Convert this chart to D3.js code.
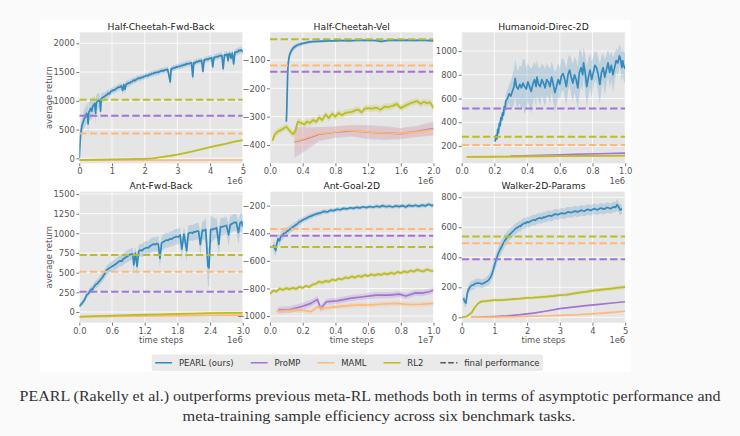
<!DOCTYPE html>
<html><head><meta charset="utf-8">
<script src="https://cdn.jsdelivr.net/npm/d3@7"></script>
<style>html,body{margin:0;padding:0;background:#fafafa;}svg{display:block}</style>
</head><body>
<svg id="c" width="740" height="436"></svg>
<script>
// ---------------- DATA ----------------
const titles = ["Half-Cheetah-Fwd-Back","Half-Cheetah-Vel","Humanoid-Direc-2D","Ant-Fwd-Back","Ant-Goal-2D","Walker-2D-Params"];
const offsetLabels = ["1e6","1e6","1e6","1e6","1e7","1e6"];
const xTicks = [[0,1,2,3,4,5],[0,0.4,0.8,1.2,1.6,2.0],[0,0.2,0.4,0.6,0.8,1.0],[0,0.6,1.2,1.8,2.4,3.0],[0,0.2,0.4,0.6,0.8,1.0],[0,1,2,3,4,5]];
const xTickDigits = [0,1,1,1,1,0];
const yTicks = [[0,500,1000,1500,2000],[-400,-300,-200,-100],[200,400,600,800,1000],[0,250,500,750,1000,1250,1500],[-1000,-800,-600,-400,-200],[0,200,400,600,800]];
const methods = ["PEARL (ours)","ProMP","MAML","RL2"];
const finalProMP = [738,-141,515,258,-418,387];
const finalMAML  = [433,-119,208,512,-369,493];
const finalRL2   = [1020,-27,278,724,-500,538];

// [x, mean, std]
const hcfbPEARL = [[0,0,10],[0.02,250,80],[0.04,420,120],[0.06,500,150],[0.08,560,120],[0.1,600,160],[0.13,650,140],[0.16,700,180],[0.19,720,150],[0.22,780,160],[0.25,760,200],[0.27,600,220],[0.29,800,180],[0.32,830,150],[0.35,870,200],[0.38,820,150],[0.41,900,180],[0.44,930,120],[0.47,950,150],[0.5,780,200],[0.52,970,130],[0.56,990,150],[0.6,1010,120],[0.63,1000,100],[0.65,820,150],[0.67,1040,90],[0.72,1060,80],[0.76,1070,70],[0.8,1090,70],[0.84,1100,70],[0.88,1130,70],[0.92,1120,60],[0.96,1160,60],[1.0,1170,60],[1.04,1190,60],[1.08,1185,60],[1.12,1210,60],[1.16,1220,60],[1.2,1240,60],[1.24,1235,60],[1.28,1260,60],[1.33,1180,80],[1.36,1280,60],[1.4,1200,80],[1.43,1290,60],[1.47,1295,60],[1.5,1310,60],[1.54,1305,60],[1.58,1330,55],[1.62,1335,55],[1.66,1360,55],[1.7,1350,55],[1.74,1370,55],[1.78,1385,55],[1.82,1395,50],[1.86,1390,50],[1.9,1410,50],[1.94,1405,50],[1.98,1425,50],[2.02,1430,50],[2.06,1440,50],[2.1,1435,50],[2.14,1460,50],[2.18,1455,50],[2.22,1475,50],[2.26,1470,50],[2.3,1490,50],[2.34,1485,50],[2.38,1500,50],[2.42,1495,50],[2.46,1510,50],[2.5,1520,50],[2.54,1525,50],[2.58,1520,50],[2.62,1540,50],[2.66,1535,50],[2.7,1550,50],[2.75,1420,80],[2.78,1330,90],[2.81,1560,50],[2.85,1555,50],[2.88,1575,50],[2.92,1570,50],[2.96,1590,50],[3.0,1585,50],[3.04,1600,50],[3.08,1598,50],[3.12,1615,50],[3.16,1610,50],[3.2,1630,50],[3.24,1625,50],[3.28,1645,50],[3.32,1640,50],[3.36,1650,50],[3.4,1655,50],[3.43,1660,50],[3.47,1420,100],[3.5,1665,50],[3.54,1660,50],[3.58,1680,50],[3.62,1675,50],[3.66,1695,50],[3.7,1690,50],[3.74,1705,50],[3.78,1510,90],[3.82,1715,50],[3.86,1712,50],[3.9,1725,50],[3.94,1720,50],[3.98,1740,55],[4.02,1735,55],[4.05,1750,55],[4.08,1590,90],[4.12,1760,55],[4.16,1755,55],[4.2,1770,55],[4.24,1765,55],[4.28,1785,55],[4.32,1780,55],[4.36,1790,60],[4.4,1560,100],[4.44,1800,60],[4.48,1795,60],[4.52,1810,60],[4.55,1700,80],[4.58,1820,60],[4.61,1815,60],[4.64,1740,80],[4.68,1830,60],[4.72,1640,100],[4.76,1845,60],[4.79,1840,60],[4.82,1855,60],[4.85,1850,60],[4.88,1880,60],[4.91,1870,60],[4.94,1885,60],[4.97,1875,60],[5.0,1850,60]];
const hcfbProMP = [];
const hcfbMAML = [[0,-35,6],[1,-33,6],[2,-32,6],[3,-31,6],[4,-30,6],[5,-30,6]];
const hcfbRL2 = [[0,-30,10],[0.5,-25,10],[1,-20,10],[1.5,-15,10],[2,-8,10],[2.25,0,12],[2.5,20,12],[2.75,40,14],[3,65,14],[3.25,95,15],[3.5,125,16],[3.75,160,16],[4,195,17],[4.25,225,18],[4.5,255,18],[4.75,290,18],[5,318,18]];

const hcvPEARL = [[0.2,-318,10],[0.205,-280,20],[0.21,-220,30],[0.215,-160,30],[0.22,-120,25],[0.23,-95,20],[0.24,-82,15],[0.26,-68,12],[0.28,-59,10],[0.3,-54,10],[0.33,-48,8],[0.37,-44,8],[0.42,-40,6],[0.47,-37,6],[0.52,-35,5],[0.58,-34,5],[0.65,-33,5],[0.72,-32,4],[0.8,-32,4],[0.88,-31,4],[0.96,-32,4],[1.04,-31,4],[1.12,-30,4],[1.2,-31,4],[1.28,-31,4],[1.36,-34,5],[1.44,-31,4],[1.52,-30,4],[1.6,-31,4],[1.68,-30,4],[1.76,-31,4],[1.84,-30,4],[1.92,-31,4],[2.0,-32,4]];
const hcvProMP = [[0.3,-390,55],[0.45,-378,40],[0.6,-362,25],[0.8,-355,20],[1.0,-350,20],[1.2,-355,25],[1.4,-358,25],[1.6,-360,20],[1.8,-352,20],[2.0,-342,25]];
const hcvMAML = [[0.3,-388,45],[0.45,-375,35],[0.6,-360,22],[0.75,-356,18],[0.95,-348,18],[1.15,-353,20],[1.4,-358,20],[1.6,-359,18],[1.8,-354,18],[2.0,-346,20]];
const hcvRL2 = [[0.03,-385,12],[0.06,-362,12],[0.1,-352,12],[0.15,-345,12],[0.2,-336,12],[0.24,-350,12],[0.28,-362,12],[0.31,-352,12],[0.34,-318,12],[0.38,-322,12],[0.42,-328,12],[0.45,-318,12],[0.49,-322,12],[0.53,-312,12],[0.57,-318,12],[0.6,-303,12],[0.64,-312,12],[0.68,-292,12],[0.72,-305,12],[0.76,-290,12],[0.8,-300,12],[0.84,-287,12],[0.88,-295,12],[0.92,-287,12],[0.96,-285,12],[1.0,-283,12],[1.04,-278,12],[1.08,-275,12],[1.12,-285,12],[1.16,-272,12],[1.2,-270,12],[1.25,-272,12],[1.3,-268,12],[1.35,-276,12],[1.4,-265,12],[1.45,-266,12],[1.5,-262,12],[1.55,-255,12],[1.6,-270,12],[1.65,-262,12],[1.7,-255,12],[1.75,-250,12],[1.8,-245,12],[1.84,-255,12],[1.88,-248,12],[1.92,-252,12],[1.96,-250,12],[2.0,-270,12]];

const hdPEARL = [[0.204,236,20],[0.21,290,30],[0.215,260,30],[0.22,340,35],[0.225,310,35],[0.23,390,40],[0.235,370,40],[0.24,440,40],[0.245,420,45],[0.25,480,45],[0.255,460,50],[0.26,530,50],[0.265,510,60],[0.27,580,60],[0.28,600,70],[0.29,640,80],[0.3,620,120],[0.31,660,140],[0.32,700,150],[0.327,770,160],[0.335,700,170],[0.345,680,150],[0.355,720,160],[0.365,690,180],[0.375,730,200],[0.385,700,230],[0.395,680,180],[0.405,740,160],[0.415,700,170],[0.425,660,190],[0.435,720,160],[0.445,760,150],[0.455,700,170],[0.46,780,150],[0.47,720,140],[0.48,700,160],[0.49,760,130],[0.5,730,150],[0.51,690,160],[0.52,760,140],[0.53,740,130],[0.54,700,150],[0.55,780,130],[0.56,720,150],[0.57,650,170],[0.58,700,150],[0.59,760,140],[0.6,720,130],[0.61,790,140],[0.62,810,130],[0.63,760,150],[0.64,700,160],[0.65,800,140],[0.66,840,130],[0.67,780,150],[0.68,730,160],[0.69,800,150],[0.7,760,170],[0.71,690,180],[0.72,820,190],[0.73,860,150],[0.74,800,140],[0.745,900,130],[0.755,820,150],[0.765,700,170],[0.775,780,160],[0.785,840,140],[0.795,760,150],[0.805,820,130],[0.815,880,120],[0.825,860,130],[0.835,800,150],[0.845,720,170],[0.855,820,140],[0.865,860,120],[0.875,780,150],[0.885,840,130],[0.895,900,110],[0.905,820,140],[0.915,880,120],[0.925,800,150],[0.935,860,120],[0.945,920,100],[0.955,900,110],[0.965,960,90],[0.97,940,100],[0.975,900,110],[0.98,860,130],[0.985,920,110],[0.99,880,120],[1.0,850,130]];
const hdProMP = [[0.3,115,4],[0.5,122,4],[0.7,130,4],[0.9,136,4],[1.0,140,4]];
const hdMAML = [[0.03,106,3],[0.3,110,3],[0.6,114,3],[1.0,118,3]];
const hdRL2 = [[0.03,108,4],[0.2,110,4],[0.4,112,4],[0.6,114,4],[0.8,116,4],[1.0,118,4]];

const afbPEARL = [[0,76,30],[0.03,95,32],[0.05,110,35],[0.08,140,38],[0.1,160,40],[0.135,216,40],[0.16,230,42],[0.18,250,45],[0.2,270,45],[0.22,290,45],[0.24,285,48],[0.26,310,50],[0.28,330,50],[0.3,350,50],[0.33,360,52],[0.35,380,55],[0.38,400,55],[0.4,420,55],[0.43,445,58],[0.45,470,60],[0.48,500,60],[0.5,534,60],[0.53,545,60],[0.55,560,60],[0.58,570,62],[0.6,580,65],[0.63,590,65],[0.65,600,65],[0.69,619,70],[0.72,640,70],[0.75,650,70],[0.78,645,70],[0.8,670,70],[0.84,690,72],[0.87,703,75],[0.9,715,75],[0.93,730,75],[0.98,740,80],[1.0,600,120],[1.03,750,80],[1.06,580,120],[1.09,770,80],[1.12,788,80],[1.15,780,80],[1.18,800,85],[1.21,810,85],[1.24,820,85],[1.27,815,85],[1.3,840,90],[1.33,850,90],[1.36,864,90],[1.39,855,90],[1.42,870,90],[1.45,860,100],[1.48,680,130],[1.51,880,90],[1.54,890,95],[1.56,900,95],[1.6,915,95],[1.63,910,95],[1.66,930,95],[1.69,925,95],[1.72,940,100],[1.75,950,100],[1.78,960,100],[1.82,955,100],[1.85,979,100],[1.88,800,130],[1.92,990,100],[1.97,780,140],[2.0,1000,100],[2.05,1010,100],[2.08,1000,100],[2.1,1021,105],[2.13,1015,105],[2.16,1030,105],[2.19,1025,105],[2.22,860,150],[2.26,1040,120],[2.29,1035,120],[2.32,1050,150],[2.36,580,250],[2.38,560,250],[2.41,1050,180],[2.44,1045,160],[2.46,1060,150],[2.49,1055,130],[2.52,1070,120],[2.56,860,150],[2.59,1084,110],[2.62,1080,110],[2.65,1090,110],[2.7,1100,110],[2.74,980,140],[2.77,1110,110],[2.8,1120,110],[2.83,1135,110],[2.88,1140,110],[2.92,1010,150],[2.95,1130,120],[2.98,1150,120],[3.0,1084,130]];
const afbProMP = [];
const afbMAML = [[0,-62,8],[0.6,-55,8],[1.2,-50,8],[1.8,-46,8],[2.4,-42,8],[3.0,-40,8]];
const afbRL2 = [[0,-60,6],[0.3,-52,6],[0.6,-45,6],[0.9,-40,6],[1.2,-35,6],[1.5,-30,6],[1.8,-25,6],[2.1,-20,6],[2.4,-15,6],[2.7,-12,6],[3.0,-10,6]];

const agPEARL = [[0.02,-485,40],[0.027,-505,40],[0.035,-525,40],[0.042,-470,40],[0.05,-440,40],[0.058,-455,35],[0.066,-425,35],[0.075,-415,35],[0.085,-400,30],[0.095,-398,30],[0.105,-385,30],[0.115,-378,30],[0.125,-368,28],[0.135,-360,28],[0.145,-350,28],[0.155,-342,25],[0.165,-335,25],[0.175,-322,25],[0.19,-312,22],[0.205,-300,22],[0.22,-293,20],[0.235,-282,20],[0.25,-276,20],[0.27,-266,18],[0.29,-258,18],[0.31,-252,18],[0.33,-242,18],[0.35,-246,16],[0.37,-234,16],[0.39,-236,16],[0.41,-226,16],[0.43,-230,15],[0.45,-220,15],[0.47,-224,15],[0.49,-215,15],[0.51,-220,15],[0.53,-212,15],[0.55,-216,15],[0.57,-208,15],[0.59,-214,15],[0.61,-206,15],[0.63,-212,15],[0.65,-204,15],[0.67,-209,15],[0.69,-200,15],[0.71,-208,15],[0.73,-203,15],[0.75,-210,15],[0.77,-202,15],[0.79,-207,15],[0.81,-200,15],[0.83,-209,15],[0.85,-198,15],[0.87,-204,15],[0.89,-197,15],[0.91,-205,15],[0.93,-196,15],[0.95,-202,15],[0.97,-190,15],[0.99,-200,15],[1.0,-195,15]];
const agProMP = [[0.05,-957,25],[0.12,-952,25],[0.19,-933,25],[0.25,-908,25],[0.29,-879,25],[0.31,-945,25],[0.345,-896,22],[0.41,-890,22],[0.49,-872,22],[0.57,-860,22],[0.65,-848,22],[0.73,-848,22],[0.79,-841,22],[0.83,-855,22],[0.89,-832,22],[0.93,-834,22],[0.975,-824,22],[1.0,-812,22]];
const agMAML = [[0.04,-965,18],[0.1,-960,18],[0.16,-957,18],[0.21,-960,18],[0.25,-969,18],[0.29,-933,18],[0.32,-945,18],[0.37,-937,18],[0.45,-928,18],[0.53,-920,18],[0.61,-920,18],[0.69,-913,18],[0.77,-908,18],[0.85,-916,18],[0.93,-914,18],[1.0,-908,18]];
const agRL2 = [[0,-840,15],[0.02,-815,15],[0.04,-822,15],[0.06,-800,15],[0.08,-810,15],[0.1,-798,15],[0.12,-806,15],[0.14,-795,15],[0.16,-803,15],[0.18,-788,15],[0.2,-796,15],[0.22,-780,15],[0.24,-790,15],[0.26,-772,15],[0.28,-766,15],[0.3,-750,15],[0.32,-758,15],[0.34,-745,15],[0.36,-752,15],[0.38,-735,15],[0.4,-742,15],[0.42,-728,15],[0.44,-735,15],[0.46,-720,15],[0.48,-726,15],[0.5,-712,15],[0.52,-722,15],[0.54,-708,15],[0.56,-716,15],[0.58,-702,15],[0.6,-710,15],[0.62,-698,15],[0.64,-706,15],[0.66,-696,15],[0.68,-702,15],[0.7,-690,15],[0.72,-698,15],[0.74,-686,15],[0.76,-694,15],[0.78,-680,15],[0.8,-688,15],[0.82,-676,15],[0.84,-684,15],[0.86,-670,15],[0.88,-678,15],[0.9,-664,15],[0.92,-672,15],[0.94,-676,15],[0.96,-662,15],[0.98,-670,15],[1.0,-674,15]];

const wkPEARL = [[0.05,127,30],[0.09,105,30],[0.13,95,30],[0.17,160,30],[0.2,182,30],[0.25,200,30],[0.3,212,30],[0.36,216,30],[0.42,225,30],[0.48,228,30],[0.56,227,30],[0.62,222,30],[0.68,228,30],[0.76,238,30],[0.82,248,35],[0.87,262,35],[0.92,285,40],[0.97,320,45],[1.02,360,45],[1.07,395,45],[1.12,425,45],[1.17,450,45],[1.22,470,45],[1.27,493,45],[1.33,515,40],[1.38,530,40],[1.45,548,38],[1.53,565,38],[1.6,580,35],[1.64,590,35],[1.68,595,35],[1.72,600,35],[1.76,608,35],[1.8,605,35],[1.84,618,35],[1.88,622,35],[1.92,628,35],[1.96,625,35],[2.0,636,35],[2.05,632,35],[2.1,640,35],[2.15,645,35],[2.2,650,35],[2.25,646,35],[2.3,655,35],[2.35,660,35],[2.4,662,35],[2.45,658,35],[2.5,668,35],[2.55,666,35],[2.6,672,35],[2.65,676,35],[2.7,678,35],[2.75,674,35],[2.8,682,35],[2.85,688,35],[2.9,686,35],[2.95,684,35],[3.0,690,35],[3.05,694,35],[3.1,692,35],[3.15,690,35],[3.2,696,35],[3.25,702,35],[3.3,700,35],[3.35,698,35],[3.4,702,35],[3.45,708,35],[3.5,706,35],[3.55,702,35],[3.6,708,35],[3.65,714,35],[3.7,710,35],[3.75,708,35],[3.8,714,35],[3.85,720,35],[3.9,716,35],[3.95,712,35],[4.0,718,35],[4.05,724,35],[4.1,720,35],[4.15,716,35],[4.2,722,35],[4.25,728,35],[4.3,724,35],[4.35,720,35],[4.4,726,35],[4.45,732,35],[4.5,728,35],[4.55,724,35],[4.6,730,35],[4.65,736,35],[4.7,732,35],[4.75,750,40],[4.8,735,35],[4.85,715,35],[4.9,725,35]];
const wkProMP = [[0.3,0,2],[0.6,1,2],[1.0,5,2],[1.4,10,2],[1.8,18,3],[2.2,28,3],[2.6,42,3],[3.0,58,3],[3.4,68,3],[3.8,78,3],[4.2,86,3],[4.6,95,3],[5.0,104,3]];
const wkMAML = [[0.3,0,2],[1.0,1,2],[1.5,3,2],[2.0,6,2],[2.5,9,2],[3.0,13,2],[3.5,17,2],[4.0,23,2],[4.5,31,2],[5.0,40,2]];
const wkRL2 = [[0,0,5],[0.15,5,5],[0.3,30,8],[0.4,65,10],[0.5,92,10],[0.6,105,10],[0.8,110,10],[1.0,115,10],[1.2,114,10],[1.4,118,10],[1.6,122,10],[1.8,125,10],[2.0,130,10],[2.2,131,10],[2.4,134,10],[2.6,138,10],[2.8,142,10],[3.0,148,10],[3.2,150,12],[3.4,158,12],[3.6,165,12],[3.8,170,12],[4.0,178,12],[4.2,182,14],[4.4,188,14],[4.6,192,14],[4.8,198,14],[5.0,202,14]];

const captionLines = ["PEARL (Rakelly et al.) outperforms previous meta-RL methods both in terms of asymptotic performance and","meta-training sample efficiency across six benchmark tasks."];

// ---------------- LAYOUT / STYLE ----------------
const pearlSeries = [hcfbPEARL,hcvPEARL,hdPEARL,afbPEARL,agPEARL,wkPEARL];
const prompSeries = [hcfbProMP,hcvProMP,hdProMP,afbProMP,agProMP,wkProMP];
const mamlSeries  = [hcfbMAML,hcvMAML,hdMAML,afbMAML,agMAML,wkMAML];
const rl2Series   = [hcfbRL2,hcvRL2,hdRL2,afbRL2,agRL2,wkRL2];
const xDomains = [[0,5],[0,2],[0,1],[0,3],[0,1],[0,5]];
const yDomains = [[-87,2191],[-465,-2],[54,1158],[-136,1529],[-1048,-99],[-36,837]];
const colors = {PEARL:"#348ABD", ProMP:"#a274d4", MAML:"#ffb877", RL2:"#bcbd22"};
const colLeft = [79.3, 270, 461.7], rowTop = [32.3, 191.7], plotW = 163.5, plotH = 131;
const FONT = "'DejaVu Sans', sans-serif";

const svg = d3.select("#c");
svg.append("rect").attr("x",40).attr("y",20).attr("width",591).attr("height",352).attr("fill","#ffffff");

titles.forEach((t,i) => {
  const col = i % 3, row = Math.floor(i/3);
  const L = colLeft[col], T = rowTop[row];
  const x = d3.scaleLinear().domain(xDomains[i]).range([L, L+plotW]);
  const y = d3.scaleLinear().domain(yDomains[i]).range([T+plotH, T]);
  const g = svg.append("g");
  const cid = "clip"+i;
  svg.append("defs").append("clipPath").attr("id",cid).append("rect").attr("x",L).attr("y",T).attr("width",plotW).attr("height",plotH);
  g.append("rect").attr("x",L).attr("y",T).attr("width",plotW).attr("height",plotH).attr("fill","#e5e5e5");
  g.selectAll(null).data(xTicks[i]).enter().append("line")
    .attr("x1",d=>x(d)).attr("x2",d=>x(d)).attr("y1",T).attr("y2",T+plotH).attr("stroke","#fff").attr("stroke-width",0.8);
  g.selectAll(null).data(yTicks[i]).enter().append("line")
    .attr("y1",d=>y(d)).attr("y2",d=>y(d)).attr("x1",L).attr("x2",L+plotW).attr("stroke","#fff").attr("stroke-width",0.8);
  const fmtX = xTickDigits[i] ? d3.format(".1f") : d3.format("d");
  const ax = g.append("g").attr("transform",`translate(0,${T+plotH})`)
    .call(d3.axisBottom(x).tickValues(xTicks[i]).tickFormat(fmtX).tickSize(3).tickPadding(2));
  const ay = g.append("g").attr("transform",`translate(${L},0)`)
    .call(d3.axisLeft(y).tickValues(yTicks[i]).tickFormat(d3.format("d")).tickSize(3).tickPadding(1.5));
  [ax,ay].forEach(a => {
    a.select(".domain").remove();
    a.selectAll(".tick line").attr("stroke","#555").attr("stroke-width",0.8);
    a.selectAll(".tick text").attr("fill","#555").style("font-family",FONT).style("font-size","8.4px");
  });
  const plot = g.append("g").attr("clip-path",`url(#${cid})`);
  const area = d3.area().x(d=>x(d[0])).y0(d=>y(d[1]-d[2])).y1(d=>y(d[1]+d[2]));
  const line = d3.line().x(d=>x(d[0])).y(d=>y(d[1]));
  const draw = (data, c, w) => {
    if (!data.length) return;
    plot.append("path").datum(data).attr("d",area).attr("fill",c).attr("fill-opacity",0.22);
    plot.append("path").datum(data).attr("d",line).attr("fill","none").attr("stroke",c).attr("stroke-width",w).attr("stroke-linejoin","round");
  };
  draw(pearlSeries[i], colors.PEARL, 1.7);
  draw(prompSeries[i], colors.ProMP, 1.6);
  draw(mamlSeries[i], colors.MAML, 1.6);
  draw(rl2Series[i], colors.RL2, 1.8);
  [[finalRL2,colors.RL2],[finalMAML,colors.MAML],[finalProMP,colors.ProMP]].forEach(([arr,c]) => {
    plot.append("line").attr("x1",L).attr("x2",L+plotW).attr("y1",y(arr[i])).attr("y2",y(arr[i]))
      .attr("stroke",c).attr("stroke-width",2).attr("stroke-dasharray","7.4,3.2");
  });
  g.append("text").attr("x",L+plotW/2).attr("y",T-2.8).attr("text-anchor","middle")
    .style("font-family",FONT).style("font-size","9.2px").attr("fill","#222").text(t);
  g.append("text").attr("x",L+plotW).attr("y",T+plotH+20.3).attr("text-anchor","end")
    .style("font-family",FONT).style("font-size","8.4px").attr("fill","#555").text(offsetLabels[i]);
  if (col === 0) {
    g.append("text").attr("transform",`translate(51.5,${T+plotH/2}) rotate(-90)`).attr("text-anchor","middle")
      .style("font-family",FONT).style("font-size","8.4px").attr("fill","#555").text("average return");
  }
  if (row === 1) {
    g.append("text").attr("x",L+plotW/2).attr("y",T+plotH+20.3).attr("text-anchor","middle")
      .style("font-family",FONT).style("font-size","8.4px").attr("fill","#555").text("time steps");
  }
});

// legend
const lg = svg.append("g");
const lx0 = 151.7, ly0 = 354.5, lh = 16.5, fs = 8.5;
const box = lg.append("rect").attr("x",lx0).attr("y",ly0).attr("height",lh).attr("rx",2).attr("fill","#eaeaea");
const legendItems = [[methods[0],colors.PEARL,null],[methods[1],colors.ProMP,null],[methods[2],colors.MAML,null],[methods[3],colors.RL2,null],["final performance","#555","5.5,2.4"]];
let cx = lx0 + 0.4*fs;
const cy = ly0 + lh/2;
legendItems.forEach(([label,c,dash]) => {
  const ln = lg.append("line").attr("x1",cx).attr("x2",cx+2*fs).attr("y1",cy).attr("y2",cy).attr("stroke",c).attr("stroke-width",1.5);
  if (dash) ln.attr("stroke-dasharray",dash);
  const tx = lg.append("text").attr("x",cx+2.8*fs).attr("y",cy+3).style("font-family",FONT).style("font-size",fs+"px").attr("fill","#333").text(label);
  cx = cx + 2.8*fs + tx.node().getComputedTextLength() + 2*fs;
});
box.attr("width", cx - 2*fs + 0.4*fs - lx0);

// caption
const cap = svg.append("g");
cap.append("text").attr("x",370).attr("y",401).attr("text-anchor","middle")
  .style("font-family","'Liberation Serif', serif").style("font-size","15px").attr("fill","#333")
  .attr("textLength",701).attr("lengthAdjust","spacingAndGlyphs").text(captionLines[0]);
cap.append("text").attr("x",379).attr("y",421).attr("text-anchor","middle")
  .style("font-family","'Liberation Serif', serif").style("font-size","15px").attr("fill","#333")
  .attr("textLength",393).attr("lengthAdjust","spacingAndGlyphs").text(captionLines[1]);
</script>
</body></html>
